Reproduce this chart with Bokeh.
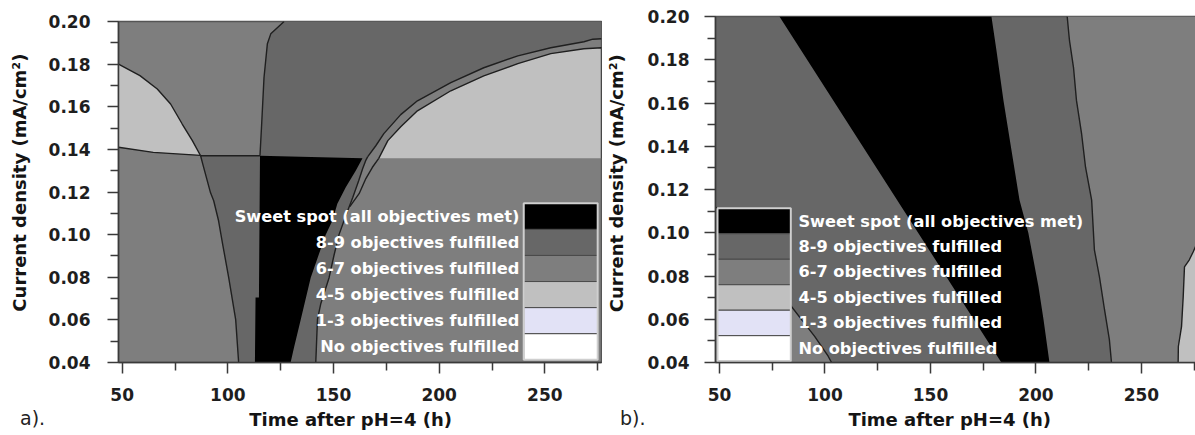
from bokeh.plotting import figure
from bokeh.layouts import row, column
from bokeh.models import FixedTicker, NumeralTickFormatter, Range1d, Div
from bokeh.embed import file_html
from bokeh.resources import INLINE
from bokeh.core.properties import value

FONT = "DejaVu Sans"
NB = "\u00a0"

# ---------------- legend / categories ----------------
leg_labels = ["Sweet spot (all objectives met)", "8-9 objectives fulfilled",
              "6-7 objectives fulfilled", "4-5 objectives fulfilled",
              "1-3 objectives fulfilled", "No objectives fulfilled"]
leg_colors = ["#000000", "#676767", "#7e7e7e", "#c0c0c0", "#e2e2f6", "#ffffff"]
C_SWEET, C_89, C_67, C_45 = leg_colors[0], leg_colors[1], leg_colors[2], leg_colors[3]

x_label = "Time after pH=4 (h)"
y_label = "Current density (mA/cm\u00b2)"
panel_tags = ["a).", "b)."]

x_major = [50, 100, 150, 200, 250]
x_minor = [75, 125, 175, 225, 275]
y_major = [0.04, 0.06, 0.08, 0.10, 0.12, 0.14, 0.16, 0.18, 0.20]
y_minor = [0.05, 0.07, 0.09, 0.11, 0.13, 0.15, 0.17, 0.19]

# ---------------- panel a boundaries (time h, current density mA/cm2) -------
a_xr = (48.25, 276.8)
a_L1_t = [105.1, 103.7, 100.4, 97.5, 95.6, 93.3, 91.8, 88.1, 87.1]
a_L1_j = [0.040, 0.0601, 0.0798, 0.0957, 0.1065, 0.1159, 0.1196, 0.1332, 0.137]
a_J_t = [115.2, 116.0, 117.1, 118.7, 120.3, 123.4, 126.6]
a_J_j = [0.137, 0.152, 0.1736, 0.1896, 0.1942, 0.1971, 0.200]
a_C1_t = [166.2, 170.0, 173.8, 181.8, 189.7, 205.5, 221.1, 237.2, 252.8, 268.5, 272.7, 276.8]
a_C1_j = [0.1366, 0.1417, 0.1474, 0.1563, 0.1628, 0.1713, 0.1783, 0.1839, 0.1877, 0.1905, 0.1917, 0.1919]
a_C2_t = [171.4, 175.7, 181.8, 189.7, 205.5, 221.1, 237.2, 252.8, 268.5, 276.8]
a_C2_j = [0.1358, 0.1441, 0.1506, 0.1581, 0.1675, 0.1745, 0.1802, 0.1849, 0.1872, 0.1877]
a_R1_t = [141.6, 142.4, 144.0, 147.9, 150.2, 152.6, 155.8, 159.1, 161.9, 163.8, 165.2, 166.2]
a_R1_j = [0.040, 0.0602, 0.0677, 0.0798, 0.0902, 0.1000, 0.1089, 0.1174, 0.1253, 0.1310, 0.1347, 0.1366]
a_RL_t = [157.7, 162.1, 165.3, 168.4, 171.4]
a_RL_j = [0.1131, 0.1192, 0.1263, 0.1316, 0.1358]
a_BL_t = [112.8, 113.1, 114.7, 115.2]
a_BL_j = [0.040, 0.0705, 0.0705, 0.137]
a_BR_t = [129.7, 131.3, 134.5, 139.2, 146.3, 149.5, 151.8, 155.8, 160.5, 163.7]
a_BR_j = [0.040, 0.047, 0.0602, 0.0798, 0.1000, 0.1066, 0.1145, 0.1222, 0.1300, 0.1358]
a_arc_t = [48.25, 58.4, 66.6, 72.9, 78.4, 83.2, 87.1]
a_arc_j = [0.180, 0.1746, 0.1683, 0.1613, 0.1519, 0.1441, 0.137]
a_H0_t = [48.25, 64.7, 87.1]
a_H0_j = [0.141, 0.1386, 0.1372]

# ---------------- panel b boundaries ----------------
b_xr = (48.1, 276.1)
b_R_t = [214.8, 215.9, 217.8, 219.2, 221.6, 223.5, 226.4, 227.7, 230.1, 232.5, 234.8, 235.8]
b_R_j = [0.200, 0.1888, 0.1764, 0.1612, 0.1460, 0.1303, 0.1151, 0.0921, 0.0796, 0.0644, 0.0506, 0.040]
b_BKL_t = [78.4, 136.3, 183.6]
b_BKL_j = [0.200, 0.1119, 0.040]
b_BKR_t = [178.9, 181.3, 184.6, 188.4, 192.2, 196.4, 198.8, 201.2, 203.6, 206.4]
b_BKR_j = [0.200, 0.1842, 0.1612, 0.1381, 0.1151, 0.0999, 0.0875, 0.0750, 0.0598, 0.040]
b_LG_t = [267.4, 267.5, 269.0, 269.8, 270.4, 272.7, 274.5, 276.0]
b_LG_j = [0.040, 0.0474, 0.0566, 0.0704, 0.0842, 0.0875, 0.0911, 0.0944]
b_P_t = [48.1, 84.1, 88.9, 95.1, 101.5, 103.1]
b_P_j = [0.112, 0.0659, 0.0598, 0.0521, 0.0429, 0.040]

LINE = "#1f1f1f"
AX = "#3a3a3a"


def make_fig(xr, frame_w, frame_h, bl, bt, br, xl, yl, y_std, y_lstd):
    p = figure(output_backend="svg", toolbar_location=None,
               x_range=Range1d(*xr), y_range=Range1d(0.04, 0.20),
               frame_width=frame_w, frame_height=frame_h,
               min_border_left=bl, min_border_top=bt, min_border_bottom=30,
               min_border_right=br, x_axis_label=xl, y_axis_label=yl)
    p.background_fill_color = C_67
    p.border_fill_color = "white"
    p.outline_line_color = "#555555"
    p.outline_line_width = 1.5
    p.grid.visible = False
    p.xaxis.ticker = FixedTicker(ticks=x_major, minor_ticks=x_minor)
    p.yaxis.ticker = FixedTicker(ticks=y_major, minor_ticks=y_minor)
    p.yaxis.formatter = NumeralTickFormatter(format="0.00")
    for ax in (p.xaxis, p.yaxis):
        ax.axis_line_color = AX
        ax.axis_line_width = 1.5
        ax.major_tick_line_color = AX
        ax.minor_tick_line_color = AX
        ax.major_tick_line_width = 1.5
        ax.minor_tick_line_width = 1.5
        ax.major_tick_in = 0
        ax.minor_tick_in = 0
        ax.major_tick_out = 11
        ax.minor_tick_out = 8
        ax.major_label_text_font = FONT
        ax.major_label_text_font_style = "bold"
        ax.major_label_text_font_size = "17px"
        ax.major_label_text_color = "#1e1e1e"
        ax.axis_label_text_font = FONT
        ax.axis_label_text_font_style = "bold"
        ax.axis_label_text_font_size = "18px"
        ax.axis_label_text_color = "#141414"
    p.xaxis.major_label_standoff = 14
    p.xaxis.axis_label_standoff = 5
    p.yaxis.major_label_standoff = y_std
    p.yaxis.axis_label_standoff = y_lstd
    return p


def rev(a):
    return list(reversed(a))


def add_legend(p, left, right, top, rowh, text_x, align):
    tops = [top - i * rowh for i in range(len(leg_labels))]
    bots = [t - rowh for t in tops]
    p.quad(left=[left] * len(tops), right=[right] * len(tops), top=tops, bottom=bots,
           fill_color=leg_colors, line_color="#4a4a4a", line_width=1)
    p.quad(left=[left], right=[right], top=[tops[0]], bottom=[bots[-1]],
           fill_color=None, line_color="#cfcfcf", line_width=2)
    p.text(x=[text_x] * len(tops), y=[(t + b) / 2 for t, b in zip(tops, bots)], text=leg_labels,
           text_align=align, text_baseline="middle", text_color="white",
           text_font=value(FONT), text_font_style="bold", text_font_size="16.2px")


# ================= panel a =================
pa = make_fig(a_xr, 483, 341, 118, 21, 1, x_label + NB * 3, NB * 3 + y_label, 17, 16)
x0a, x1a = a_xr
dark_t = a_L1_t + a_J_t + [x1a, x1a] + rev(a_C1_t) + rev(a_R1_t)
dark_j = a_L1_j + a_J_j + [0.20, a_C1_j[-1]] + rev(a_C1_j) + rev(a_R1_j)
pa.patch(dark_t, dark_j, fill_color=C_89, line_color=None)
pa.patch(a_C2_t + [x1a], a_C2_j + [a_C2_j[0]], fill_color=C_45, line_color=None)
pa.patch(a_arc_t + rev(a_H0_t), a_arc_j + rev(a_H0_j), fill_color=C_45, line_color=None)
pa.patch(a_BL_t + rev(a_BR_t), a_BL_j + rev(a_BR_j), fill_color=C_SWEET, line_color=None)
pa.multi_line(
    xs=[a_L1_t + [a_J_t[0]], a_J_t, a_C1_t, a_R1_t, a_RL_t, a_C2_t + [x1a], a_arc_t, a_H0_t],
    ys=[a_L1_j + [a_J_j[0]], a_J_j, a_C1_j, a_R1_j, a_RL_j, a_C2_j + [a_C2_j[0]], a_arc_j, a_H0_j],
    line_color=LINE, line_width=1.4)
add_legend(pa, 240.0, 275.0, 0.1147, 0.01224, 237.9, "right")

# ================= panel b =================
pb = make_fig(b_xr, 481, 346, 112, 16, 0, x_label + NB * 2, NB * 2 + y_label, 15, 18)
pb.background_fill_color = C_89
pb.patch(b_R_t + [280, 280], b_R_j + [0.04, 0.20], fill_color=C_67, line_color=None)
pb.patch(b_LG_t + [280, 280], b_LG_j + [b_LG_j[-1], 0.04], fill_color=C_45, line_color=None)
pb.patch(b_P_t + [b_P_t[0]], b_P_j + [0.04], fill_color=C_67, line_color=None)
pb.patch(b_BKL_t + rev(b_BKR_t), b_BKL_j + rev(b_BKR_j), fill_color=C_SWEET, line_color=None)
pb.multi_line(xs=[b_R_t, b_LG_t, b_P_t], ys=[b_R_j, b_LG_j, b_P_j],
              line_color=LINE, line_width=1.4)
add_legend(pb, 49.05, 83.8, 0.1113, 0.01178, 87.4, "left")

tag_style = {"position": "absolute", "top": "402px", "font-family": FONT,
             "font-size": "19px", "color": "#222222", "line-height": "22px"}
tag_a = Div(text=panel_tags[0], styles=dict(tag_style, left="15px"))
tag_b = Div(text=panel_tags[1], styles=dict(tag_style, left="615px"))

layout = row(column(pa), column(pb), tag_a, tag_b)
open("out.html", "w").write(file_html(layout, INLINE))
